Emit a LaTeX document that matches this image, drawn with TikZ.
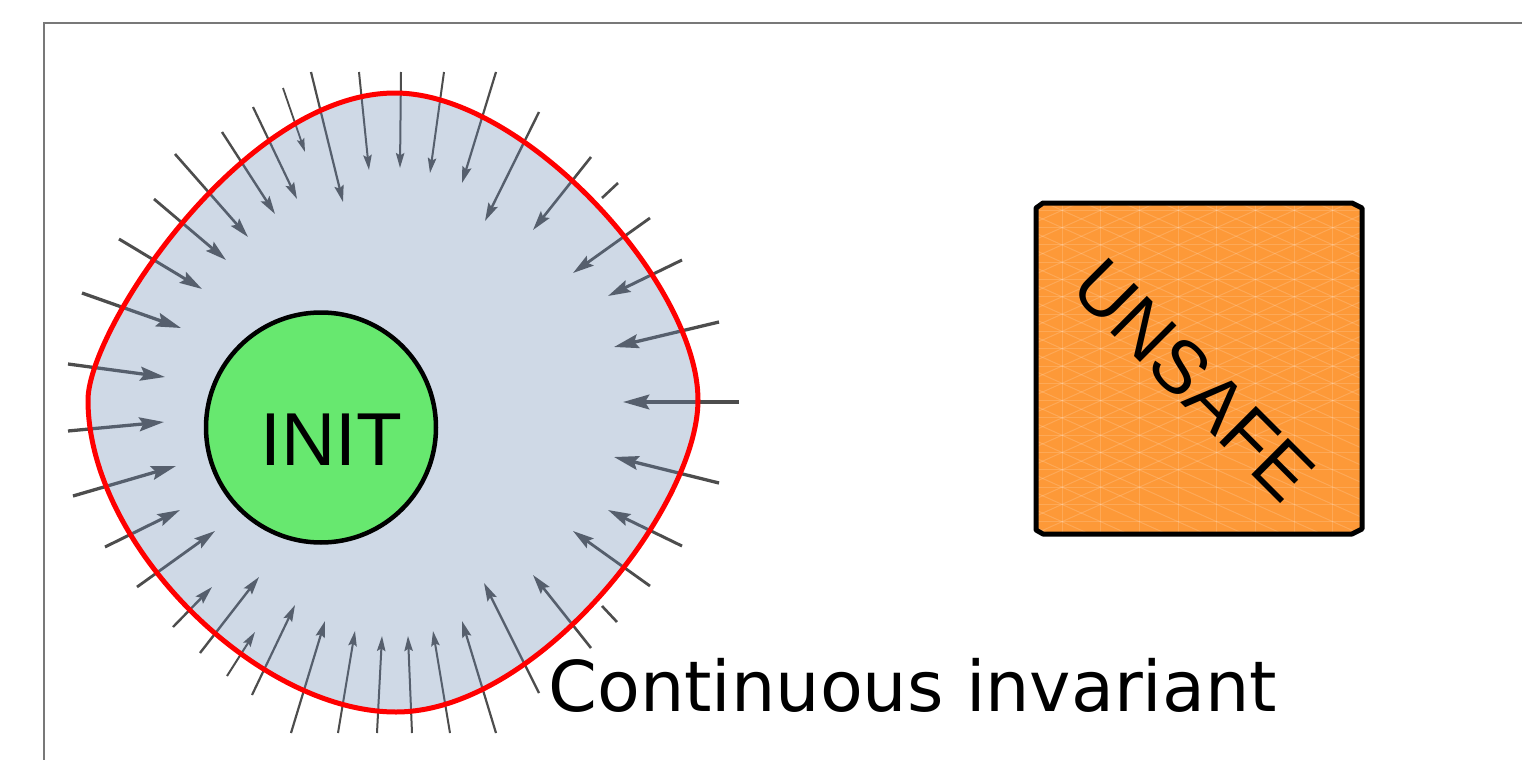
\documentclass[tikz,border=0pt]{standalone}
\usepackage{fontspec}
\setmainfont{Liberation Sans}
\newfontfamily\djv{DejaVu Sans}
\usetikzlibrary{arrows.meta}
\definecolor{arrowgray}{RGB}{77,77,77}
\definecolor{regionblue}{RGB}{105,136,177}
\definecolor{initgreen}{RGB}{103,232,111}
\definecolor{unsafeorange}{RGB}{253,153,56}
\definecolor{framegray}{RGB}{120,120,120}
\tikzset{
  vecarrow/.style={draw=arrowgray, fill=arrowgray, line width=#1*0.5pt,
    -{Stealth[length=0pt 7.5, width=0pt 4.2, inset=0pt 1.2]}},
  vecstub/.style={draw=arrowgray, line width=#1*0.5pt},
  framestyle/.style={draw=framegray, line width=1pt},
  borderred/.style={draw=red, line width=2.5pt},
  initstyle/.style={circle, draw=black, line width=2.25pt, fill=initgreen,
    minimum size=115pt, inner sep=0pt},
  meshline/.style={draw=white, opacity=0.16, line width=0.5pt}
}
\begin{document}
\begin{tikzpicture}[x=0.5pt,y=-0.5pt]
\useasboundingbox (0,0) rectangle (1522,760);
% frame
\draw[framestyle] (44,770) -- (44,23) -- (1530,23);
% vector field arrows
\foreach \tx/\ty/\hx/\hy/\w in {
283/88/305/152/1.8, 311/72/343/202/2.2, 359/72/369/170/2, 401/72/400/168/2,
444/72/430/173/2, 496/72/462/183/2.2, 539/112/485/221/2.4, 591/157/533/230/2.6,
650/218/573/273/2.8, 682/260/608/296/3, 719/322/614/347/3.3, 739/402/623/402/3.5,
719/483/614/457/3.3, 682/546/608/510/3, 650/586/573/531/2.8, 591/648/533/575/2.6,
539/693/484/583/2.4, 496/733/462/621/2.2, 450/733/433/631/2, 412/733/408/636/2,
377/733/382/636/2, 338/733/355/631/2, 291/733/325/621/2.2, 252/695/295/605/2.2,
227/676/255/632/2, 200/653/259/577/2.4, 173/627/212/587/2.4, 137/587/215/531/2.8,
105/547/180/510/3, 73/496/176/466/3.3, 68/431/164/422/3.3, 68/364/165/377/3.3,
82/293/181/328/3.3, 119/239/202/289/3, 154/199/226/260/2.8, 175/154/248/237/2.6,
222/132/275/214/2.4, 253/107/297/199/2.2}
{ \draw[vecarrow=\w] (\tx,\ty) -- (\hx,\hy); }
\draw[vecstub=2.6] (618,183) -- (602,198);
\draw[vecstub=2.6] (617,622) -- (602,606);
% invariant region
\coordinate (T) at (395,93);
\coordinate (R) at (698,400);
\coordinate (B) at (396,712);
\coordinate (L) at (88,400);
\path[fill=regionblue, fill opacity=0.32]
  (T) .. controls (524,93) and (698,284) .. (R)
      .. controls (698,507) and (537,712) .. (B)
      .. controls (257,712) and (88,544) .. (L)
      .. controls (88,329) and (244,93) .. (T) -- cycle;
\draw[borderred]
  (T) .. controls (524,93) and (698,284) .. (R)
      .. controls (698,507) and (537,712) .. (B)
      .. controls (257,712) and (88,544) .. (L)
      .. controls (88,329) and (244,93) .. (T) -- cycle;
% INIT
\node[initstyle] (init) at (321,427.5) {};
\node[anchor=base, inner sep=0pt, font=\fontsize{37.5pt}{40pt}\selectfont] (initlabel) at (331,465) {INIT};
% UNSAFE box
\fill[unsafeorange] (1036,208) -- (1043,203) -- (1352,203) -- (1362,208) -- (1362,529)
  -- (1352,534) -- (1043,534) -- (1036,530) -- cycle;
\begin{scope}
  \clip (1036,203) rectangle (1362,534);
  \foreach \k in {0,...,9} { \draw[meshline] (1023.3+\k*38.7,190) -- (1023.3+\k*38.7,545); }
  \foreach \k in {0,...,20} { \draw[meshline] (1030,193+\k*17.3) -- (1370,193+\k*17.3); }
  \foreach \k in {-10,...,20} {
    \draw[meshline] (1023.3,193+\k*17.3) -- (1410.3,193+\k*17.3+173);
    \draw[meshline] (1023.3,193+\k*17.3) -- (1410.3,193+\k*17.3-173);
  }
\end{scope}
\draw[draw=black, line width=2.5pt, line join=round] (1036,208) -- (1043,203) -- (1352,203) -- (1362,208) -- (1362,529)
  -- (1352,534) -- (1043,534) -- (1036,530) -- cycle;
\node[rotate=-45, inner sep=0pt, font=\fontsize{37.5pt}{40pt}\selectfont] (unsafe) at (1194,380) {UNSAFE};
% caption
\node[anchor=base west, inner sep=0pt, font=\djv\fontsize{35pt}{40pt}\selectfont] (caption) at (548,711) {Continuous invariant};
\end{tikzpicture}
\end{document}
